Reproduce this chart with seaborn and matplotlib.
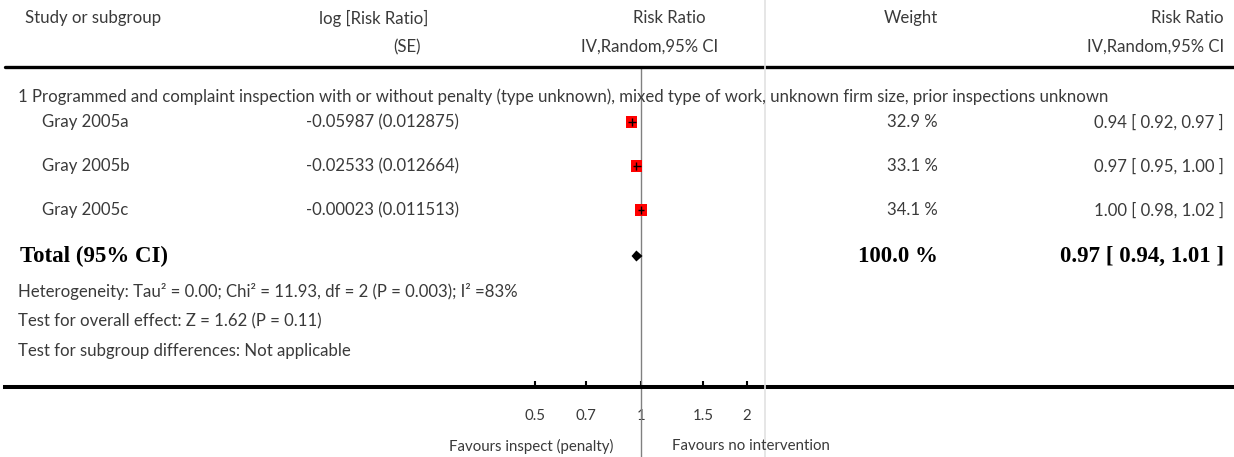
import numpy as np
import pandas as pd
import matplotlib
matplotlib.use("Agg")
import matplotlib.pyplot as plt
from matplotlib.lines import Line2D
import seaborn as sns

# ---------------- data ----------------
studies = ["Gray 2005a", "Gray 2005b", "Gray 2005c"]
log_rr_se = ["-0.05987 (0.012875)", "-0.02533 (0.012664)", "-0.00023 (0.011513)"]
rr = [0.94, 0.97, 1.00]
rr_lo = [0.92, 0.95, 0.98]
rr_hi = [0.97, 1.00, 1.02]
weights = [32.9, 33.1, 34.1]
total_rr, total_lo, total_hi = 0.97, 0.94, 1.01
total_weight = 100.0
tick_values = [0.5, 0.7, 1, 1.5, 2]
tick_labels = ["0.5", "0.7", "1", "1.5", "2"]
subgroup_title = ("1 Programmed and complaint inspection with or without penalty (type unknown), "
                  "mixed type of work, unknown firm size, prior inspections unknown")
heterogeneity = "Heterogeneity: Tau² = 0.00; Chi² = 11.93, df = 2 (P = 0.003); I² =83%"
overall = "Test for overall effect: Z = 1.62 (P = 0.11)"
subgroup_diff = "Test for subgroup differences: Not applicable"
fav_left = "Favours inspect (penalty)"
fav_right = "Favours no intervention"

# ---------------- layout ----------------
W, H = 1234, 457
sns.set_theme(style="white")
plt.rcParams["font.family"] = ["Lato", "DejaVu Sans"]
TXT = "#3a3a3a"
FS = 12.1
BFS = 16.5
SERIF = ["Liberation Serif", "DejaVu Serif"]

fig = plt.figure(figsize=(W / 100, H / 100), dpi=100)
ax = fig.add_axes([0, 0, 1, 1])
ax.set_xscale("log")
X0, K = 641.0, 153.0   # pixel of RR=1, pixels per ln unit
ax.set_xlim(np.exp(-X0 / K), np.exp((W - X0) / K))
ax.set_ylim(H, 0)
ax.patch.set_alpha(0)

row_y = [122, 166, 210]
total_y = 256

def ftext(x, y, s, ha="left", **kw):
    kw.setdefault("fontsize", FS)
    kw.setdefault("color", TXT)
    fig.text(x / W, 1 - y / H, s, ha=ha, va="center", **kw)

# header
ftext(25, 18, "Study or subgroup")
ftext(428, 18, "log [Risk Ratio]", ha="right")
ftext(421, 47, "(SE)", ha="right")
ftext(669, 18, "Risk Ratio", ha="center")
ftext(650, 47, "IV,Random,95% CI", ha="center")
ftext(938, 18, "Weight", ha="right")
ftext(1224, 18, "Risk Ratio", ha="right")
ftext(1224, 47, "IV,Random,95% CI", ha="right")

# rules
fig.add_artist(Line2D([5 / W, 1], [1 - 67 / H] * 2, transform=fig.transFigure, color="black", lw=2.4))
fig.add_artist(Line2D([765 / W] * 2, [0, 1], transform=fig.transFigure, color="#e2e2e2", lw=1.2))

ftext(18, 97, subgroup_title)

for i, y in enumerate(row_y):
    ftext(42, y, studies[i])
    ftext(306, y, log_rr_se[i])
    ftext(938, y, f"{weights[i]:.1f} %", ha="right")
    ftext(1224, y, f"{rr[i]:.2f} [ {rr_lo[i]:.2f}, {rr_hi[i]:.2f} ]", ha="right")

ftext(20, total_y, "Total (95% CI)", family=SERIF, fontweight="bold", fontsize=BFS, color="black")
ftext(938, total_y, f"{total_weight:.1f} %", ha="right", family=SERIF, fontweight="bold", fontsize=BFS, color="black")
ftext(1224, total_y, f"{total_rr:.2f} [ {total_lo:.2f}, {total_hi:.2f} ]", ha="right",
      family=SERIF, fontweight="bold", fontsize=BFS, color="black")

ftext(18, 291, heterogeneity)
ftext(18, 321, overall)
ftext(18, 351, subgroup_diff)

ftext(613, 446, fav_left, ha="right", fontsize=10.8)
ftext(672, 446, fav_right, ha="left", fontsize=10.8)

# null line
ax.vlines(1, 67, H, color="#808080", lw=1.0, zorder=1)

# study squares
df = pd.DataFrame({"study": studies, "rr": rr, "lo": rr_lo, "hi": rr_hi, "y": row_y, "w": weights})
sns.scatterplot(data=df, x="rr", y="y", marker="s", s=66, color="#ff0000", edgecolor="none",
                legend=False, ax=ax, zorder=3)
ax.hlines(df["y"], df["lo"], df["hi"], color="black", lw=1.0, zorder=4)
ax.scatter(df["rr"], df["y"], marker="|", s=30, color="black", linewidths=1.0, zorder=4)

# total diamond
dh = 5.5
ax.fill([total_lo, total_rr, total_hi, total_rr], [total_y, total_y - dh, total_y, total_y + dh],
        color="black", zorder=4, lw=0)

# axis
for s in ["top", "left", "right"]:
    ax.spines[s].set_visible(False)
ax.spines["bottom"].set_position(("data", 387))
ax.spines["bottom"].set_linewidth(2.9)
ax.spines["bottom"].set_color("black")
ax.spines["bottom"].set_bounds(np.exp((5 - X0) / K), np.exp((W - X0) / K))
ax.set_xticks(tick_values)
ax.set_xticklabels(tick_labels)
ax.xaxis.set_minor_locator(matplotlib.ticker.NullLocator())
ax.tick_params(axis="x", direction="in", length=4.5, width=1.5, color="black", pad=16,
               labelsize=10.8, labelcolor=TXT, bottom=True)
ax.set_yticks([])
ax.set_xlabel("")
ax.set_ylabel("")
ax.grid(False)

fig.savefig("out.png", dpi=100)
